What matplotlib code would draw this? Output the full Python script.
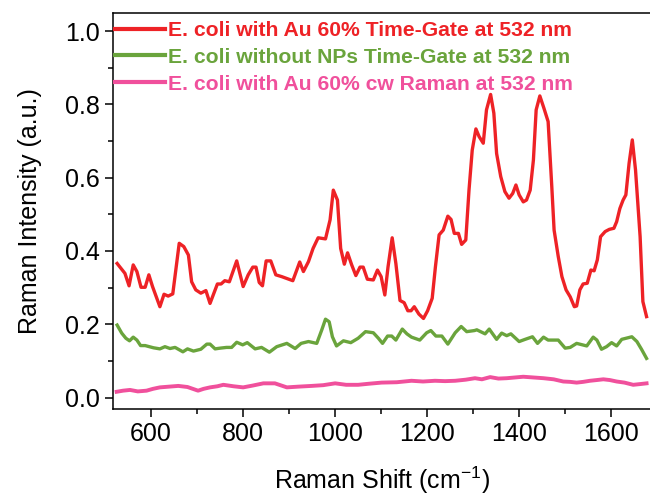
import matplotlib.pyplot as plt
from matplotlib.ticker import MultipleLocator

plt.rcParams['font.family'] = ['Liberation Sans', 'DejaVu Sans']
plt.rcParams['mathtext.default'] = 'regular'

# === DATA ===
red_x = [527, 544, 553, 562, 570, 579, 588, 596, 604, 620, 629, 638, 648, 662, 672,
         682, 689, 698, 709, 720, 729, 745, 753, 761, 771, 787, 801, 812, 822, 829,
         836, 843, 851, 861, 872, 885, 909, 924, 932, 943, 953, 964, 980, 990, 997,
         1006, 1013, 1021, 1028, 1037, 1046, 1055, 1062, 1071, 1084, 1093, 1101, 1109,
         1116, 1125, 1133, 1142, 1151, 1159, 1166, 1173, 1183, 1193, 1202, 1212, 1219,
         1227, 1236, 1246, 1253, 1260, 1269, 1276, 1285, 1292, 1299, 1307, 1314, 1323,
         1330, 1339, 1346, 1352, 1361, 1370, 1379, 1387, 1394, 1401, 1410, 1417, 1425,
         1432, 1438, 1446, 1455, 1464, 1472, 1477, 1486, 1494, 1503, 1512, 1521, 1526,
         1533, 1540, 1549, 1557, 1564, 1571, 1578, 1588, 1597, 1607, 1613, 1620, 1627,
         1633, 1640, 1647, 1654, 1664, 1670, 1678]
red_y = [0.366, 0.339, 0.305, 0.362, 0.344, 0.301, 0.301, 0.335, 0.303, 0.248, 0.282,
         0.277, 0.283, 0.421, 0.412, 0.389, 0.316, 0.294, 0.285, 0.292, 0.257, 0.310,
         0.310, 0.319, 0.316, 0.373, 0.303, 0.335, 0.356, 0.356, 0.314, 0.305, 0.373,
         0.373, 0.335, 0.330, 0.319, 0.370, 0.344, 0.371, 0.407, 0.436, 0.433, 0.485,
         0.566, 0.539, 0.407, 0.364, 0.395, 0.362, 0.333, 0.356, 0.356, 0.323, 0.321,
         0.348, 0.330, 0.280, 0.357, 0.436, 0.366, 0.265, 0.259, 0.237, 0.237, 0.248,
         0.228, 0.216, 0.237, 0.271, 0.357, 0.444, 0.457, 0.495, 0.486, 0.448, 0.448,
         0.418, 0.430, 0.566, 0.675, 0.733, 0.712, 0.694, 0.785, 0.827, 0.776, 0.666,
         0.603, 0.562, 0.544, 0.557, 0.580, 0.553, 0.534, 0.539, 0.566, 0.648, 0.785,
         0.823, 0.789, 0.753, 0.575, 0.457, 0.385, 0.330, 0.294, 0.275, 0.248, 0.250,
         0.294, 0.310, 0.312, 0.348, 0.346, 0.376, 0.439, 0.453, 0.459, 0.462, 0.480,
         0.516, 0.539, 0.553, 0.639, 0.703, 0.621, 0.439, 0.262, 0.221]

green_x = [527, 537, 546, 554, 562, 570, 578, 588, 606, 620, 631, 642, 653, 670, 680,
           693, 709, 722, 729, 740, 751, 765, 776, 787, 800, 810, 827, 841, 858, 874,
           896, 914, 927, 943, 961, 972, 980, 988, 995, 1004, 1019, 1035, 1051, 1067,
           1084, 1095, 1104, 1115, 1124, 1133, 1147, 1157, 1167, 1185, 1200, 1209, 1220,
           1233, 1246, 1262, 1275, 1287, 1304, 1309, 1327, 1336, 1352, 1363, 1374, 1383,
           1401, 1414, 1430, 1441, 1454, 1464, 1486, 1501, 1512, 1526, 1548, 1562, 1570,
           1580, 1591, 1602, 1613, 1624, 1646, 1657, 1667, 1678]
green_y = [0.198, 0.176, 0.162, 0.155, 0.165, 0.157, 0.142, 0.142, 0.136, 0.133, 0.139,
           0.134, 0.137, 0.125, 0.133, 0.127, 0.132, 0.146, 0.146, 0.133, 0.135, 0.137,
           0.137, 0.151, 0.144, 0.150, 0.133, 0.137, 0.124, 0.139, 0.148, 0.134, 0.148,
           0.153, 0.148, 0.185, 0.214, 0.207, 0.166, 0.141, 0.155, 0.150, 0.162, 0.180,
           0.177, 0.162, 0.148, 0.168, 0.168, 0.157, 0.187, 0.174, 0.165, 0.157, 0.177,
           0.183, 0.168, 0.168, 0.146, 0.177, 0.194, 0.180, 0.183, 0.185, 0.174, 0.187,
           0.159, 0.176, 0.169, 0.174, 0.153, 0.159, 0.166, 0.148, 0.165, 0.157, 0.157,
           0.135, 0.137, 0.148, 0.141, 0.165, 0.157, 0.132, 0.139, 0.150, 0.141, 0.159,
           0.166, 0.153, 0.132, 0.107]

pink_x = [526, 540, 555, 572, 591, 605, 620, 640, 660, 680, 703, 715, 729, 745, 758,
          780, 801, 822, 845, 870, 896, 921, 950, 975, 1001, 1025, 1051, 1075, 1102,
          1135, 1167, 1192, 1218, 1240, 1262, 1285, 1305, 1320, 1338, 1356, 1374, 1392,
          1410, 1432, 1454, 1476, 1497, 1512, 1526, 1540, 1555, 1570, 1584, 1598, 1613,
          1630, 1649, 1664, 1678]
pink_y = [0.016, 0.019, 0.021, 0.017, 0.019, 0.024, 0.028, 0.030, 0.032, 0.029, 0.019,
          0.024, 0.028, 0.031, 0.035, 0.031, 0.028, 0.033, 0.039, 0.039, 0.028, 0.030,
          0.032, 0.034, 0.039, 0.035, 0.035, 0.038, 0.041, 0.042, 0.046, 0.044, 0.046,
          0.045, 0.046, 0.049, 0.053, 0.050, 0.056, 0.052, 0.053, 0.055, 0.057, 0.055,
          0.053, 0.050, 0.044, 0.043, 0.041, 0.043, 0.046, 0.048, 0.050, 0.048, 0.044,
          0.041, 0.035, 0.037, 0.039]

labels = ["E. coli with Au 60% Time-Gate at 532 nm",
          "E. coli without NPs Time-Gate at 532 nm",
          "E. coli with Au 60% cw Raman at 532 nm"]
colors = ["#EE2226", "#6AA43C", "#F0509C"]

fig = plt.figure(figsize=(6.5, 4.96), dpi=100)
ax = fig.add_axes([0.1743, 0.1754, 0.8272, 0.799])

ax.plot(red_x, red_y, color=colors[0], linewidth=2.4, label=labels[0])
ax.plot(green_x, green_y, color=colors[1], linewidth=2.4, label=labels[1])
ax.plot(pink_x, pink_y, color=colors[2], linewidth=2.8, label=labels[2])

ax.set_xlim(518.7, 1687.6)
ax.set_ylim(-0.031, 1.05)
ax.xaxis.set_major_locator(MultipleLocator(200))
ax.xaxis.set_minor_locator(MultipleLocator(100))
ax.yaxis.set_major_locator(MultipleLocator(0.2))
ax.yaxis.set_minor_locator(MultipleLocator(0.1))
ax.yaxis.set_major_formatter(plt.FormatStrFormatter('%.1f'))

ax.tick_params(which='major', direction='out', length=6, width=1.1, labelsize=18)
ax.tick_params(which='minor', direction='out', length=3.5, width=1.1)
for sp in ax.spines.values():
    sp.set_linewidth(1.1)

ax.set_xlabel('Raman Shift (cm$^{-1}$)', fontsize=18, labelpad=13)
ax.set_ylabel('Raman Intensity (a.u.)', fontsize=18, labelpad=17)

leg = ax.legend(loc='upper left', bbox_to_anchor=(0.004, 0.979), frameon=False,
                handlelength=2.35, handletextpad=0.15, borderaxespad=0, borderpad=0,
                labelspacing=0.37, prop={'weight': 'bold', 'size': 15.2})
for txt, c in zip(leg.get_texts(), colors):
    txt.set_color(c)
for h in leg.get_lines():
    h.set_linewidth(3)

fig.savefig('out.png', dpi=100)
